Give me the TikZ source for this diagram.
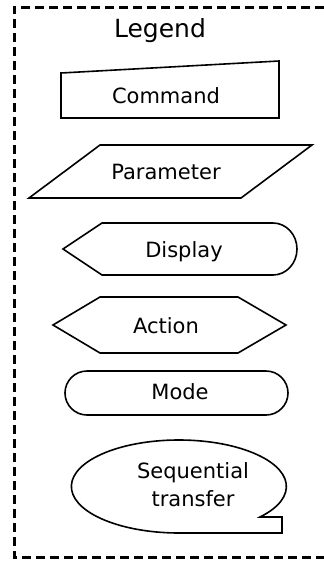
\documentclass[tikz,border=0pt]{standalone}
\usepackage{fontspec}
\setmainfont{DejaVu Sans}
\begin{document}
\begin{tikzpicture}[x=1pt, y=-1pt, line join=miter]
  \tikzstyle{outline} = [draw, line width=1.6pt]
  \tikzstyle{frame} = [draw, line width=3pt, dash pattern=on 9pt off 5pt]
  \tikzstyle{tag} = [font=\fontsize{21}{28}\selectfont, inner sep=0pt, anchor=base]
  \useasboundingbox (0,0) rectangle (324,563);

  \draw [frame] (324,7) -- (14,7) -- (14,557) -- (324,557);
  \node [tag, font=\fontsize{25}{30}\selectfont] (legend) at (160,37) {Legend};

  \draw [outline] (61,73) -- (279,61) -- (279,118) -- (61,118) -- cycle;
  \node [tag] (command) at (166,103) {Command};

  \draw [outline] (100,145) -- (312,145) -- (241,198) -- (29,198) -- cycle;
  \node [tag] (parameter) at (166,179) {Parameter};

  \draw [outline] (63,249) -- (102,223) -- (273,223)
    arc[start angle=-90, end angle=90, x radius=24, y radius=26] -- (102,275) -- cycle;
  \node [tag] (display) at (184,257) {Display};

  \draw [outline] (53,325) -- (100,297) -- (238,297) -- (286,325) -- (238,353) -- (100,353) -- cycle;
  \node [tag] (action) at (166,333) {Action};

  \draw [outline, rounded corners=22pt] (65,371) rectangle (288,415);
  \node [tag] (mode) at (180,399) {Mode};

  \draw [outline] (260,517) arc[start angle=41, end angle=-270, x radius=107.5, y radius=46.5]
    -- (282,533) -- (282,517) -- cycle;
  \node [tag, anchor=center, align=center] (transfer) at (193,485) {Sequential\\transfer};
\end{tikzpicture}
\end{document}
